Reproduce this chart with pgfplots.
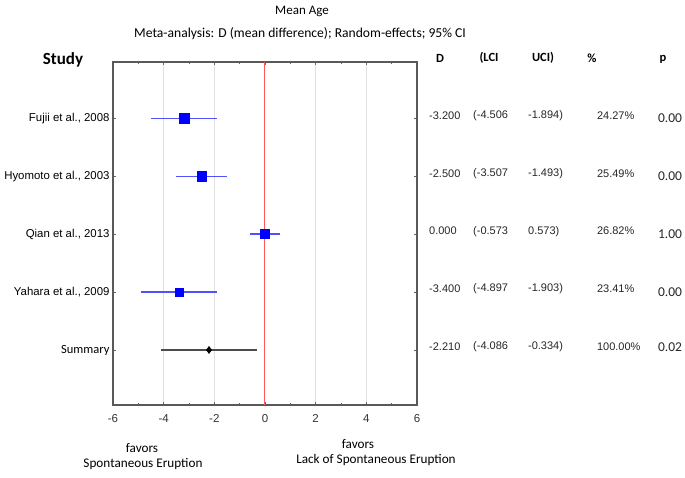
\documentclass[border=0pt]{standalone}
\usepackage{pgfplots}
\pgfplotsset{compat=1.18}
\usepackage{fontspec}
\setmainfont{Liberation Sans}
\newfontfamily\calfont{Carlito}
\definecolor{barblue}{RGB}{80,80,255}
\definecolor{redline}{RGB}{255,90,90}
\begin{document}
\begin{tikzpicture}[x=1pt,y=1pt]
\path[use as bounding box] (0,0) rectangle (685,477);
\begin{axis}[
  at={(113pt,72pt)}, anchor=south west, scale only axis,
  width=304pt, height=343pt,
  xmin=-6, xmax=6, ymin=0.05, ymax=5.97,
  xtick={-6,-4,-2,0,2,4,6},
  xticklabels={-6,-4,-2,0,2,4,6},
  minor xtick={-5,-3,-1,1,3,5},
  ytick={1,2,3,4,5},
  yticklabels={{\calfont\fontsize{12.5}{14}\selectfont Summary},{Yahara et al., 2009},{Qian et al., 2013},{Hyomoto et al., 2003},{Fujii et al., 2008}},
  xticklabel style={font=\fontsize{11.5}{13}\selectfont, text=black!80, yshift=-6pt},
  yticklabel style={font=\fontsize{11.4}{13}\selectfont},
  tick align=inside,
  major tick length=3pt, minor tick length=2pt,
  tick style={black!60, line width=0.6pt},
  xmajorgrids, grid style={black!12, line width=1pt},
  axis line style={black!65, line width=1.1pt},
  clip=false,
]
% zero line
\addplot[redline, line width=1pt] coordinates {(0,0.05) (0,5.97)};
% CI lines
\addplot[barblue, line width=1.2pt] coordinates {(-4.506,5) (-1.894,5)};
\addplot[barblue, line width=1.2pt] coordinates {(-3.507,4) (-1.493,4)};
\addplot[barblue, line width=1.2pt] coordinates {(-0.573,3) (0.573,3)};
\addplot[barblue, line width=1.2pt] coordinates {(-4.897,2) (-1.903,2)};
\addplot[black!70, line width=1.2pt] coordinates {(-4.086,1) (-0.334,1)};
% point estimates
\addplot[only marks, mark=square*, mark size=5pt, blue] coordinates {(-3.2,5)};
\addplot[only marks, mark=square*, mark size=4.6pt, blue] coordinates {(-2.5,4)};
\addplot[only marks, mark=square*, mark size=4.4pt, blue] coordinates {(0,3)};
\addplot[only marks, mark=square*, mark size=4pt, blue] coordinates {(-3.4,2)};
\addplot[only marks, mark=diamond*, mark size=3.6pt, black] coordinates {(-2.21,1)};
% value columns
\begin{scope}[every node/.style={font=\fontsize{11}{13}\selectfont, text=black!85, anchor=west, inner sep=0pt}]
\node at (axis cs:6.474,5.05) {-3.200};
\node at (axis cs:6.474,4.05) {-2.500};
\node at (axis cs:6.474,3.05) {0.000};
\node at (axis cs:6.474,2.05) {-3.400};
\node at (axis cs:6.474,1.05) {-2.210};
\node at (axis cs:8.211,5.05) {(-4.506};
\node at (axis cs:8.211,4.05) {(-3.507};
\node at (axis cs:8.211,3.05) {(-0.573};
\node at (axis cs:8.211,2.05) {(-4.897};
\node at (axis cs:8.211,1.05) {(-4.086};
\node at (axis cs:10.38,5.05) {-1.894)};
\node at (axis cs:10.38,4.05) {-1.493)};
\node at (axis cs:10.38,3.05) {0.573)};
\node at (axis cs:10.38,2.05) {-1.903)};
\node at (axis cs:10.38,1.05) {-0.334)};
\node at (axis cs:13.1,5.05) {24.27\%};
\node at (axis cs:13.1,4.05) {25.49\%};
\node at (axis cs:13.1,3.05) {26.82\%};
\node at (axis cs:13.1,2.05) {23.41\%};
\node at (axis cs:13.1,1.05) {100.00\%};
\end{scope}
\begin{scope}[every node/.style={font=\calfont\fontsize{13.5}{15}\selectfont, text=black!85, anchor=west, inner sep=0pt}]
\node at (axis cs:15.51,5.0) {0.00};
\node at (axis cs:15.51,4.0) {0.00};
\node at (axis cs:15.51,3.0) {1.00};
\node at (axis cs:15.51,2.0) {0.00};
\node at (axis cs:15.51,1.04) {0.02};
\end{scope}
\end{axis}
% titles and headers
\node[font=\calfont\fontsize{13}{15}\selectfont] at (302,466) {Mean Age};
\node[font=\calfont\fontsize{13.6}{15}\selectfont] at (300,443) {Meta-analysis: D (mean difference); Random-effects; 95\% CI};
\node[font=\calfont\bfseries\fontsize{17}{20}\selectfont] at (63,417) {Study};
\begin{scope}[every node/.style={font=\calfont\bfseries\fontsize{12.5}{14}\selectfont}]
\node at (440,419) {D};
\node at (489,419) {(LCI};
\node at (543,419) {UCI)};
\node at (592,419) {\%};
\node at (663,418) {p};
\end{scope}
\begin{scope}[every node/.style={font=\calfont\fontsize{13.2}{15}\selectfont}]
\node at (142,29) {favors};
\node at (143,13) {Spontaneous Eruption};
\node at (358,33) {favors};
\node at (376,17) {Lack of Spontaneous Eruption};
\end{scope}
\end{tikzpicture}
\end{document}
